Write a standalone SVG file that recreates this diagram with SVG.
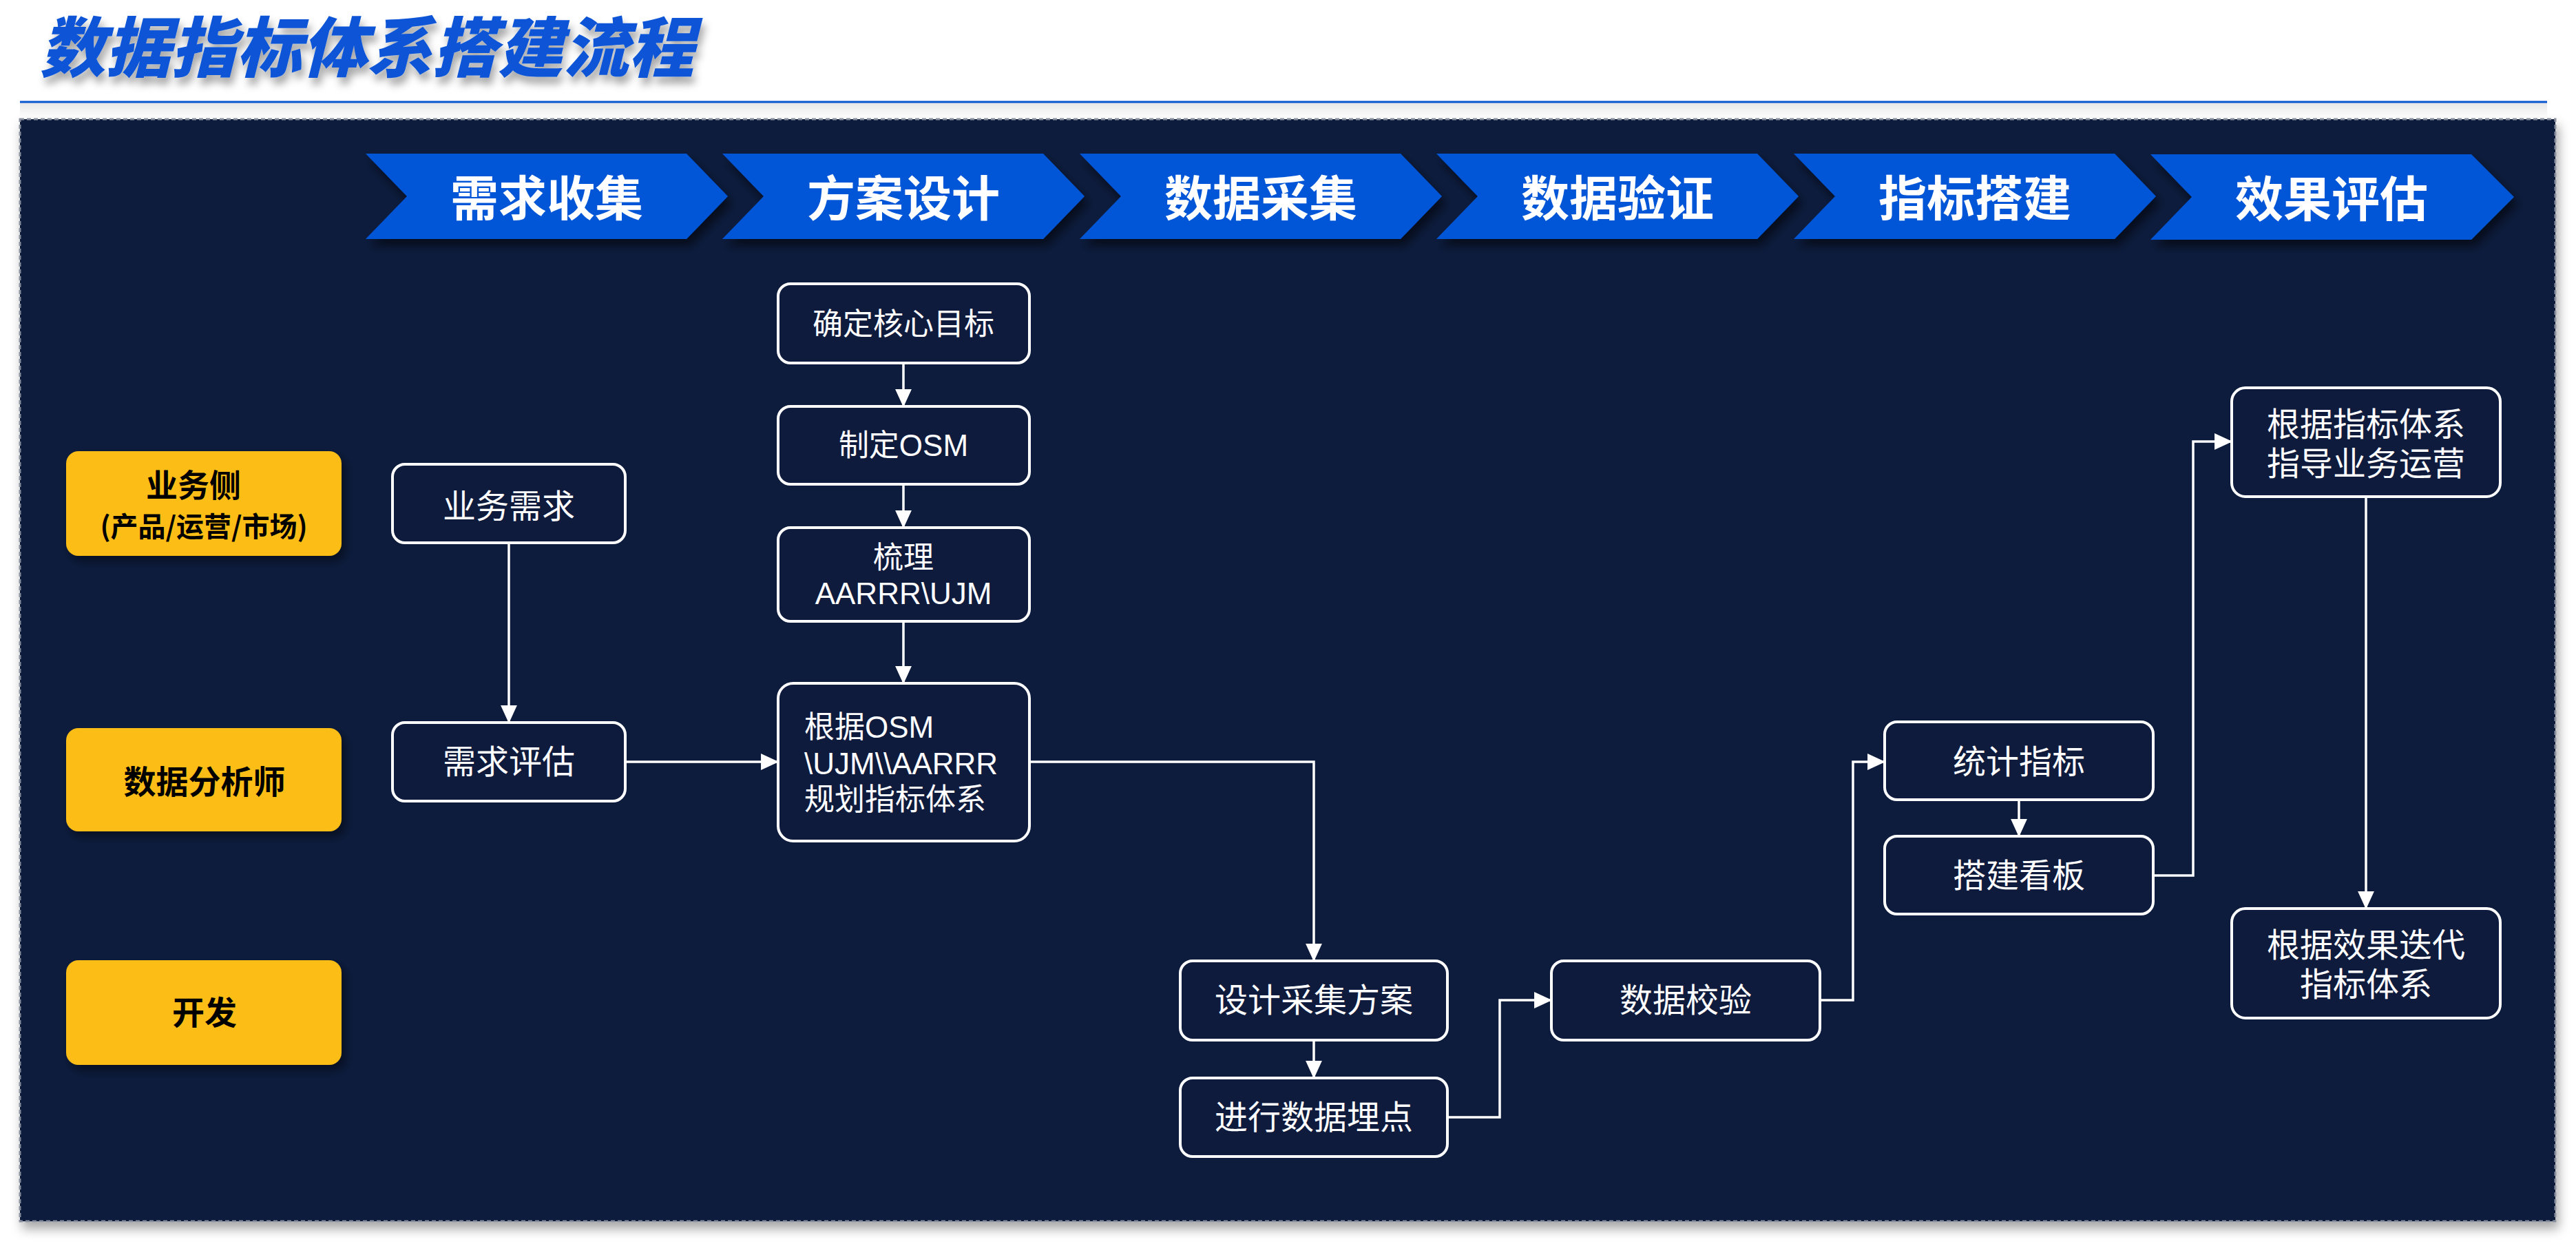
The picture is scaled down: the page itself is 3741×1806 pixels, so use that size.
<svg xmlns="http://www.w3.org/2000/svg" width="3741" height="1806" viewBox="0 0 3741 1806">
<defs>
<style>
.chev{fill:#0356d6;filter:url(#chs);}
.chevt{font-family:"Noto Sans CJK SC",sans-serif;font-weight:700;font-size:70px;fill:#ffffff;text-anchor:middle;}
.role{fill:#fcbe14;filter:url(#rs);}
.rolet{font-family:"Noto Sans CJK SC",sans-serif;font-weight:700;fill:#000000;text-anchor:middle;}
.node{fill:#0f1b3d;stroke:#ffffff;stroke-width:4;}
.nt{font-family:"Liberation Sans","Noto Sans CJK SC",sans-serif;font-size:48px;fill:#ffffff;text-anchor:middle;}
.nt2{font-family:"Liberation Sans","Noto Sans CJK SC",sans-serif;font-size:44px;fill:#ffffff;text-anchor:middle;}
.ntl{font-family:"Liberation Sans","Noto Sans CJK SC",sans-serif;font-size:44px;fill:#ffffff;text-anchor:start;}
.conn{fill:none;stroke:#ffffff;stroke-width:3.5;marker-end:url(#ah);}
</style>
<marker id="ah" markerUnits="userSpaceOnUse" markerWidth="26" markerHeight="26" viewBox="0 0 24 24" refX="23" refY="12" orient="auto">
<path d="M0,1 L24,12 L0,23 Z" fill="#ffffff"/>
</marker>
<filter id="chs" x="-10%" y="-20%" width="130%" height="160%">
<feDropShadow dx="6" dy="10" stdDeviation="7" flood-color="#000000" flood-opacity="0.55"/>
</filter>
<filter id="rs" x="-10%" y="-20%" width="130%" height="160%">
<feDropShadow dx="6" dy="8" stdDeviation="7" flood-color="#000000" flood-opacity="0.45"/>
</filter>
<filter id="ps" x="-5%" y="-5%" width="110%" height="110%">
<feDropShadow dx="4" dy="10" stdDeviation="8" flood-color="#000000" flood-opacity="0.35"/>
</filter>
<filter id="ts" x="-5%" y="-20%" width="110%" height="160%">
<feDropShadow dx="4" dy="10" stdDeviation="6" flood-color="#000000" flood-opacity="0.35"/>
</filter>
<linearGradient id="lg" x1="0" y1="0" x2="0" y2="1">
<stop offset="0" stop-color="#e6e6e6"/>
<stop offset="1" stop-color="#ffffff"/>
</linearGradient>
</defs>
<rect x="0" y="0" width="3741" height="1806" fill="#ffffff"/>

<g id="title">
<text x="58" y="104" font-family="Noto Sans CJK SC,sans-serif" font-weight="900" font-style="italic" font-size="95" fill="#0b55d6" filter="url(#ts)">数据指标体系搭建流程</text>
<rect x="29" y="149" width="3670" height="22" fill="url(#lg)"/>
<line x1="29" y1="148" x2="3699" y2="148" stroke="#0a55d0" stroke-width="3"/>
</g>

<g id="panel">
<rect x="29" y="173" width="3682" height="1600" fill="#0f1b3d" stroke="#8a8f9e" stroke-width="3" stroke-dasharray="6 4" filter="url(#ps)"/>
</g>

<g id="stages">
<g id="stage-1"><polygon class="chev" points="531,223 997,223 1057,285 997,347 531,347 591,285"/><text class="chevt" x="794" y="314">需求收集</text></g>
<g id="stage-2"><polygon class="chev" points="1049,223 1515,223 1575,285 1515,347 1049,347 1109,285"/><text class="chevt" x="1312" y="314">方案设计</text></g>
<g id="stage-3"><polygon class="chev" points="1568,223 2034,223 2094,285 2034,347 1568,347 1628,285"/><text class="chevt" x="1831" y="314">数据采集</text></g>
<g id="stage-4"><polygon class="chev" points="2086,223 2552,223 2612,285 2552,347 2086,347 2146,285"/><text class="chevt" x="2349" y="314">数据验证</text></g>
<g id="stage-5"><polygon class="chev" points="2605,223 3071,223 3131,285 3071,347 2605,347 2665,285"/><text class="chevt" x="2868" y="314">指标搭建</text></g>
<g id="stage-6"><polygon class="chev" points="3123,224 3589,224 3651,286 3589,348 3123,348 3183,286"/><text class="chevt" x="3386" y="315">效果评估</text></g>
</g>

<g id="roles">
<g id="role-business"><rect class="role" x="96" y="655" width="400" height="152" rx="18"/><text class="rolet" x="281" y="721" font-size="46">业务侧</text><text class="rolet" x="296" y="779" font-size="40">(产品/运营/市场)</text></g>
<g id="role-analyst"><rect class="role" x="96" y="1057" width="400" height="150" rx="18"/><text class="rolet" x="297" y="1152" font-size="47">数据分析师</text></g>
<g id="role-dev"><rect class="role" x="96" y="1394" width="400" height="152" rx="18"/><text class="rolet" x="297" y="1487" font-size="47">开发</text></g>
</g>

<g id="connectors">
<path class="conn" d="M739,788 V1049"/>
<path class="conn" d="M908,1106 H1130"/>
<path class="conn" d="M1312,527 V590"/>
<path class="conn" d="M1312,703 V766"/>
<path class="conn" d="M1312,902 V992"/>
<path class="conn" d="M1495,1106 H1908 V1395"/>
<path class="conn" d="M1908,1510 V1565"/>
<path class="conn" d="M2102,1622 H2178 V1452 H2253"/>
<path class="conn" d="M2643,1452 H2691 V1106 H2737"/>
<path class="conn" d="M2932,1161 V1214"/>
<path class="conn" d="M3127,1271 H3185 V641 H3241"/>
<path class="conn" d="M3436,721 V1319"/>
</g>

<g id="n-biz-req"><rect class="node" x="570" y="674" width="338" height="114" rx="18"/><text class="nt" x="739" y="752">业务需求</text></g>
<g id="n-req-eval"><rect class="node" x="570" y="1049" width="338" height="114" rx="18"/><text class="nt" x="739" y="1123">需求评估</text></g>
<g id="n-goal"><rect class="node" x="1130" y="412" width="365" height="115" rx="18"/><text class="nt2" x="1312" y="486">确定核心目标</text></g>
<g id="n-osm"><rect class="node" x="1130" y="590" width="365" height="113" rx="18"/><text class="nt2" x="1312" y="662">制定OSM</text></g>
<g id="n-aarrr"><rect class="node" x="1130" y="766" width="365" height="136" rx="18"/><text class="nt2" x="1312" y="825">梳理</text><text class="nt2" x="1312" y="877">AARRR\UJM</text></g>
<g id="n-plan"><rect class="node" x="1130" y="992" width="365" height="229" rx="22"/><text class="ntl" x="1168" y="1071">根据OSM</text><text class="ntl" x="1168" y="1124">\UJM\\AARRR</text><text class="ntl" x="1168" y="1176">规划指标体系</text></g>
<g id="n-collect-plan"><rect class="node" x="1714" y="1395" width="388" height="115" rx="18"/><text class="nt" x="1908" y="1469">设计采集方案</text></g>
<g id="n-tracking"><rect class="node" x="1714" y="1565" width="388" height="114" rx="18"/><text class="nt" x="1908" y="1639">进行数据埋点</text></g>
<g id="n-validate"><rect class="node" x="2253" y="1395" width="390" height="115" rx="18"/><text class="nt" x="2448" y="1469">数据校验</text></g>
<g id="n-stats"><rect class="node" x="2737" y="1048" width="390" height="113" rx="18"/><text class="nt" x="2932" y="1123">统计指标</text></g>
<g id="n-board"><rect class="node" x="2737" y="1214" width="390" height="113" rx="18"/><text class="nt" x="2932" y="1288">搭建看板</text></g>
<g id="n-guide"><rect class="node" x="3241" y="563" width="390" height="158" rx="20"/><text class="nt" x="3436" y="633">根据指标体系</text><text class="nt" x="3436" y="690">指导业务运营</text></g>
<g id="n-iterate"><rect class="node" x="3241" y="1319" width="390" height="159" rx="20"/><text class="nt" x="3436" y="1389">根据效果迭代</text><text class="nt" x="3436" y="1446">指标体系</text></g>
</svg>
